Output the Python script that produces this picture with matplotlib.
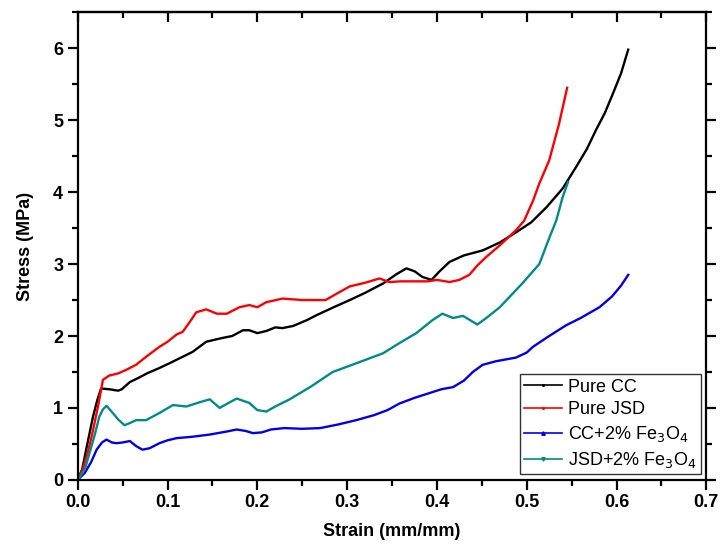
import matplotlib
matplotlib.use("Agg")
import matplotlib.pyplot as plt
from matplotlib.lines import Line2D
from matplotlib.ticker import MultipleLocator

plt.rcParams['font.family'] = ['Liberation Sans', 'DejaVu Sans']

# stress-strain curves (strain in mm/mm, stress in MPa)
cc_strain = [0.0, 0.005, 0.01, 0.017, 0.022, 0.026, 0.035, 0.045, 0.049, 0.058,
             0.068, 0.077, 0.09, 0.102, 0.115, 0.128, 0.143, 0.16, 0.172, 0.184,
             0.191, 0.2, 0.21, 0.22, 0.228, 0.24, 0.255, 0.266, 0.285, 0.303,
             0.32, 0.34, 0.355, 0.366, 0.375, 0.384, 0.394, 0.403, 0.414, 0.43,
             0.451, 0.47, 0.488, 0.505, 0.522, 0.54, 0.555, 0.567, 0.577, 0.587,
             0.596, 0.605, 0.613]
cc_stress = [0.0, 0.15, 0.46, 0.88, 1.12, 1.27, 1.26, 1.24, 1.26, 1.36,
             1.42, 1.48, 1.55, 1.62, 1.7, 1.78, 1.92, 1.97, 2.0, 2.08,
             2.08, 2.04, 2.07, 2.12, 2.11, 2.14, 2.22, 2.29, 2.4, 2.5,
             2.6, 2.73, 2.86, 2.94, 2.9, 2.82, 2.78, 2.9, 3.03, 3.12,
             3.19, 3.3, 3.44, 3.58, 3.79, 4.05, 4.35, 4.6, 4.86, 5.1,
             5.37, 5.65, 5.98]

jsd_strain = [0.0, 0.006, 0.012, 0.017, 0.023, 0.028, 0.035, 0.045, 0.054, 0.065,
              0.076, 0.091, 0.1, 0.11, 0.117, 0.125, 0.132, 0.143, 0.155, 0.166,
              0.18, 0.191, 0.2, 0.21, 0.228, 0.25, 0.276, 0.29, 0.303, 0.32,
              0.336, 0.347, 0.36, 0.377, 0.39, 0.4, 0.414, 0.425, 0.436, 0.445,
              0.455, 0.47, 0.488, 0.497, 0.507, 0.514, 0.525, 0.536, 0.545]
jsd_stress = [0.0, 0.16, 0.42, 0.69, 1.05, 1.39, 1.45, 1.48, 1.53, 1.6,
              1.71, 1.85, 1.92, 2.02, 2.06, 2.2, 2.33, 2.37, 2.31, 2.31,
              2.4, 2.43, 2.4, 2.47, 2.52, 2.5, 2.5, 2.6, 2.69, 2.74,
              2.8, 2.75, 2.76, 2.76, 2.76, 2.78, 2.75, 2.78, 2.85, 2.98,
              3.1, 3.26, 3.47, 3.6, 3.88, 4.12, 4.44, 4.95, 5.45]

ccfe_strain = [0.0, 0.008, 0.015, 0.021, 0.027, 0.032, 0.038, 0.043, 0.05, 0.058,
               0.065, 0.072, 0.08, 0.091, 0.1, 0.11, 0.128, 0.147, 0.165, 0.177,
               0.187, 0.195, 0.205, 0.215, 0.23, 0.25, 0.27, 0.29, 0.31, 0.33,
               0.345, 0.358, 0.375, 0.39, 0.405, 0.418, 0.43, 0.44, 0.451, 0.466,
               0.488, 0.5, 0.507, 0.525, 0.544, 0.56, 0.581, 0.595, 0.605, 0.613]
ccfe_stress = [0.0, 0.1, 0.25, 0.42, 0.52, 0.56, 0.52, 0.51, 0.52, 0.54,
               0.47, 0.42, 0.44, 0.51, 0.55, 0.58, 0.6, 0.63, 0.67, 0.7,
               0.68, 0.65, 0.66, 0.7, 0.72, 0.71, 0.72, 0.77, 0.83, 0.9,
               0.97, 1.06, 1.14, 1.2, 1.26, 1.29, 1.38, 1.5, 1.6, 1.65,
               1.7, 1.77, 1.85, 2.0, 2.15, 2.25, 2.4, 2.55, 2.7, 2.85]

jsdfe_strain = [0.0, 0.008, 0.013, 0.019, 0.024, 0.028, 0.032, 0.039, 0.045, 0.052,
                0.058, 0.065, 0.076, 0.091, 0.106, 0.121, 0.136, 0.147, 0.158, 0.168,
                0.177, 0.191, 0.2, 0.21, 0.22, 0.236, 0.26, 0.284, 0.31, 0.34,
                0.358, 0.377, 0.395, 0.406, 0.418, 0.429, 0.437, 0.445, 0.455, 0.47,
                0.495, 0.514, 0.525, 0.533, 0.54, 0.546]
jsdfe_stress = [0.0, 0.15, 0.37, 0.63, 0.88, 0.98, 1.03, 0.93, 0.84, 0.76,
                0.79, 0.83, 0.83, 0.93, 1.04, 1.02, 1.08, 1.12, 1.0, 1.07,
                1.13, 1.07, 0.97, 0.95, 1.02, 1.12, 1.3, 1.5, 1.62, 1.76,
                1.9, 2.04, 2.22, 2.31, 2.25, 2.28, 2.22, 2.16, 2.25, 2.4,
                2.73, 3.0, 3.36, 3.61, 3.93, 4.14]

series = [
    (cc_strain, cc_stress, 'black', '.', 'Pure CC'),
    (jsd_strain, jsd_stress, '#ff0000', '.', 'Pure JSD'),
    (ccfe_strain, ccfe_stress, '#0000ee', '^', 'CC+2% Fe$_3$O$_4$'),
    (jsdfe_strain, jsdfe_stress, '#008b8b', 'v', 'JSD+2% Fe$_3$O$_4$'),
]

fig = plt.figure(figsize=(7.2, 5.58), dpi=100)
ax = fig.add_axes([0.108, 0.140, 0.873, 0.838])

handles = []
for xs, ys, col, mk, name in series:
    ax.plot(xs, ys, color=col, lw=1.7, solid_joinstyle='round')
    handles.append(Line2D([], [], color=col, lw=1.2, marker=mk, ms=2.5, label=name))

ax.set_xlim(0, 0.7)
ax.set_ylim(0, 6.5)
ax.xaxis.set_major_locator(MultipleLocator(0.1))
ax.xaxis.set_minor_locator(MultipleLocator(0.05))
ax.yaxis.set_major_locator(MultipleLocator(1))
ax.yaxis.set_minor_locator(MultipleLocator(0.5))
ax.xaxis.set_major_formatter(plt.FormatStrFormatter('%.1f'))

for sp in ax.spines.values():
    sp.set_linewidth(1.6)

# bottom/left/right ticks point out, top ticks point in
ax.tick_params(axis='both', which='major', direction='out', length=7, width=1.6,
               labelsize=13, right=True, top=False)
ax.tick_params(axis='both', which='minor', direction='out', length=4, width=1.6,
               right=True, top=False)
top = ax.secondary_xaxis('top')
top.xaxis.set_major_locator(MultipleLocator(0.1))
top.xaxis.set_minor_locator(MultipleLocator(0.05))
top.tick_params(which='major', direction='in', length=7, width=1.6, labeltop=False)
top.tick_params(which='minor', direction='in', length=4, width=1.6)
top.spines['top'].set_linewidth(1.6)

for lab in ax.get_xticklabels() + ax.get_yticklabels():
    lab.set_fontweight('bold')

ax.set_xlabel('Strain (mm/mm)', fontsize=13, fontweight='bold', labelpad=8)
ax.set_ylabel('Stress (MPa)', fontsize=13, fontweight='bold', labelpad=14)

leg = ax.legend(handles=handles, loc='lower right', fontsize=13, frameon=True,
                fancybox=False, edgecolor='black', handlelength=2.1,
                borderaxespad=0.3, labelspacing=0.32, handletextpad=0.3,
                borderpad=0.25)
leg.get_frame().set_linewidth(1.0)

fig.savefig('out.png', dpi=100)
